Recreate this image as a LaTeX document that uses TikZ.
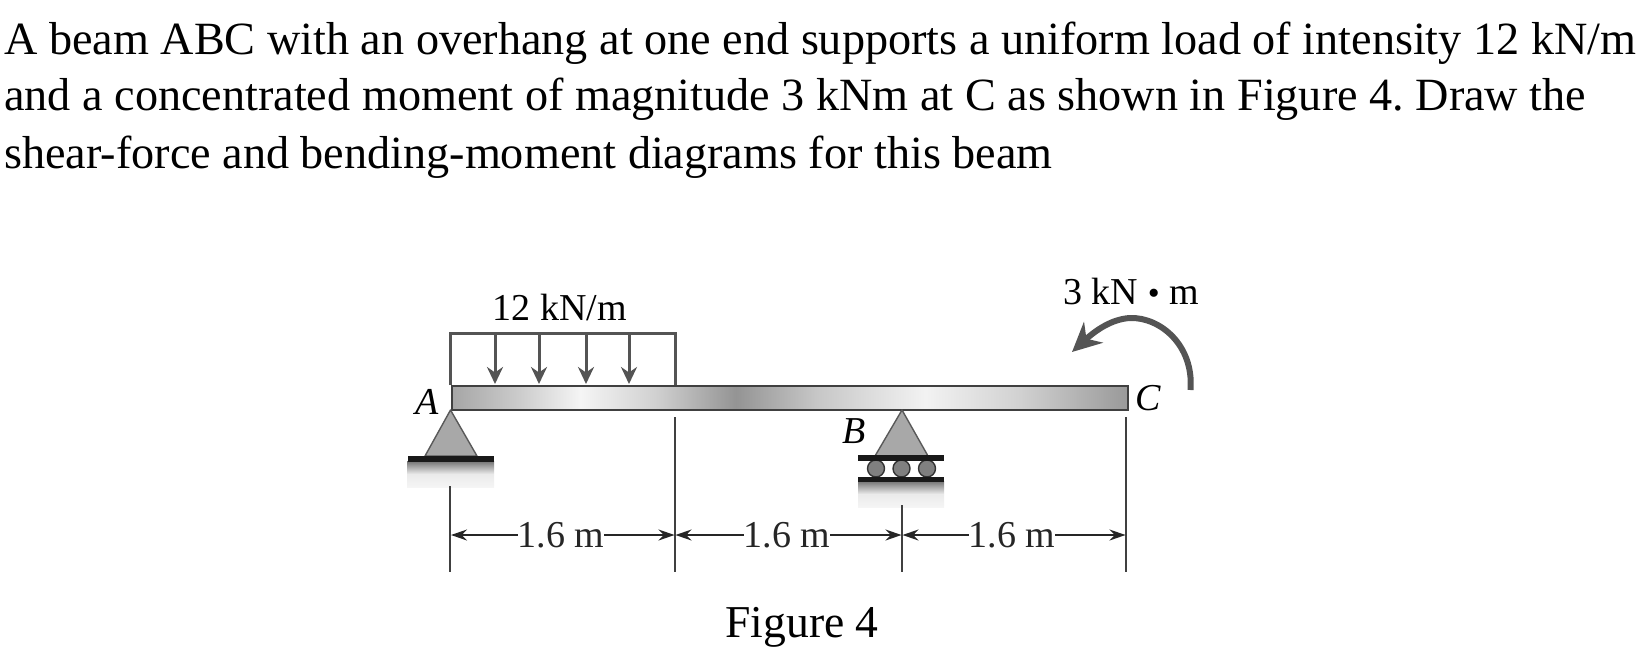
\documentclass[tikz,border=0pt]{standalone}
\usepackage{fontspec}
\setmainfont{Liberation Serif}
\usetikzlibrary{arrows.meta}
\definecolor{inkgray}{gray}{0.33}
\definecolor{supgray}{gray}{0.66}
\pgfdeclarehorizontalshading{beamshade}{100bp}{
 color(0bp)=(black!35); color(25bp)=(black!35); color(30bp)=(black!20); color(34.5bp)=(black!4); color(40bp)=(black!18);
 color(46bp)=(black!42); color(52bp)=(black!22); color(60bp)=(black!5); color(67bp)=(black!18); color(75bp)=(black!40); color(100bp)=(black!40)}
\tikzset{
 para/.style={anchor=base west,inner sep=0pt,font=\fontsize{46.2}{54}\selectfont},
 lab/.style={inner sep=0pt,font=\fontsize{38}{44}\selectfont},
 pointlab/.style={inner sep=0pt,font=\fontsize{38}{44}\selectfont\itshape},
 dimtext/.style={inner sep=0pt,font=\fontsize{38}{44}\selectfont,text=black!85},
 extline/.style={draw=black!75,line width=1.6pt},
 dimline/.style={draw=black!85,line width=1.6pt,-{Stealth[length=16pt,width=11pt]}},
 loadbox/.style={draw=inkgray,line width=3pt},
 loadarrow/.style={draw=inkgray,line width=3pt,-{Stealth[length=17pt,width=16pt]}},
 supporttri/.style={draw=black!65,fill=supgray,line width=1.4pt,line join=round},
 groundbar/.style={fill=black!90},
 roller/.style={circle,draw=black!80,fill=black!50,line width=1.4pt,minimum size=17pt,inner sep=0pt},
 groundfade/.style={top color=black!55,bottom color=black!4,middle color=black!8,draw=none},
}
\begin{document}
\frenchspacing
\begin{tikzpicture}[x=1pt,y=-1pt]
\useasboundingbox (0,0) rectangle (1645,651);
% question text
\node[para] (l1) at (4,54) {A beam ABC with an overhang at one end supports a uniform load of intensity 12 kN/m};
\node[para] (l2) at (4,110) {and a concentrated moment of magnitude 3 kNm at C as shown in Figure 4. Draw the};
\node[para] (l3) at (4,168) {shear-force and bending-moment diagrams for this beam};
% ground shading
\fill[groundfade] (407,461) rectangle (494,487);
\fill[groundfade] (858,481) rectangle (944,507);
% load block
\coordinate (boxBL) at (450.5,385);
\coordinate (boxTL) at (450.5,333);
\coordinate (boxTR) at (675,333);
\coordinate (boxBR) at (675,385);
\draw[loadbox] (boxBL) -- (boxTL) -- (boxTR) -- (boxBR);
\foreach \n/\x in {a/495,b/539,c/586,d/629}{
  \coordinate (top\n) at (\x,333);
  \coordinate (bot\n) at (\x,384);
  \draw[loadarrow] (top\n) -- (bot\n);
}
% beam
\node[draw=black!75,line width=2pt,shading=beamshade,minimum width=676pt,minimum height=24pt,inner sep=0pt,anchor=north west] (beam) at (451,385) {};
% supports
\draw[supporttri] (450.5,410) coordinate (apexA) -- (425,456) -- (477,456) -- cycle;
\fill[groundbar] (408,456) rectangle (494,461.5);
\draw[supporttri] (902,410) coordinate (apexB) -- (875,456) -- (928,456) -- cycle;
\node[roller] (r1) at (876,468.5) {};
\node[roller] (r2) at (901.5,468.5) {};
\node[roller] (r3) at (927,468.5) {};
\fill[groundbar] (858,455) rectangle (944,460.5);
\fill[groundbar] (858,476.5) rectangle (944,481.5);
% extension lines
\coordinate (e1t) at (450,486); \coordinate (e1b) at (450,572);
\coordinate (e2t) at (675,417); \coordinate (e2b) at (675,572);
\coordinate (e3t) at (902,505); \coordinate (e3b) at (902,572);
\coordinate (e4t) at (1126,417); \coordinate (e4b) at (1126,572);
\draw[extline] (e1t) -- (e1b);
\draw[extline] (e2t) -- (e2b);
\draw[extline] (e3t) -- (e3b);
\draw[extline] (e4t) -- (e4b);
% dimensions
\node[dimtext] (d1) at (561,535) {1.6 m};
\node[dimtext] (d2) at (787,535) {1.6 m};
\node[dimtext] (d3) at (1012,535) {1.6 m};
\coordinate (d1l) at (451,535); \coordinate (d1r) at (674.5,535);
\coordinate (d2l) at (675.5,535); \coordinate (d2r) at (901.5,535);
\coordinate (d3l) at (902.5,535); \coordinate (d3r) at (1125.5,535);
\draw[dimline] (d1.west) -- (d1l);
\draw[dimline] (d1.east) -- (d1r);
\draw[dimline] (d2.west) -- (d2l);
\draw[dimline] (d2.east) -- (d2r);
\draw[dimline] (d3.west) -- (d3l);
\draw[dimline] (d3.east) -- (d3r);
% labels
\node[lab] (load) at (560,307) {12 kN/m};
\node[lab] (mom) at (1131,291) {3 kN {\fontsize{34}{34}\selectfont•} m};
\node[pointlab] (A) at (427,402) {A};
\node[pointlab] (B) at (854,431) {B};
\node[pointlab] (C) at (1148,398) {C};
\node[font=\fontsize{45.6}{50}\selectfont,inner sep=0pt] (fig) at (802,627) {Figure 4};
% moment arrow
\coordinate (ms) at (1190.5,390);
\coordinate (mt) at (1072,352);
\draw[draw=inkgray,line width=6pt,-{Stealth[length=29pt,width=28pt]}] (ms) .. controls (1194,345) and (1160,317) .. (1130,318) .. controls (1112,319) and (1096,330) .. (mt);
\end{tikzpicture}
\end{document}
